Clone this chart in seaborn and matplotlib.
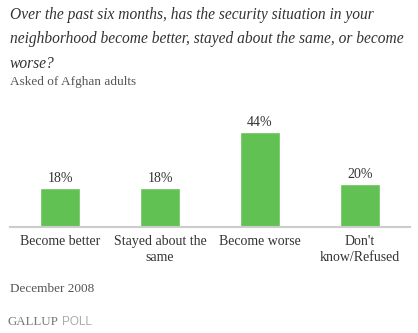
import matplotlib
matplotlib.use("Agg")
import matplotlib.pyplot as plt
import seaborn as sns
import pandas as pd

categories = ["Become better", "Stayed about the\nsame", "Become worse", "Don't\nknow/Refused"]
values = [18, 18, 44, 20]
value_labels = ["18%", "18%", "44%", "20%"]

sns.set_style("white")
plt.rcParams['font.family'] = ['Liberation Serif', 'DejaVu Serif']

W, H = 418, 333
fig = plt.figure(figsize=(W / 100, H / 100), dpi=100)
ax_left, ax_right = 10, 410
ax_top, ax_bottom = 110, 227
ax = fig.add_axes([ax_left / W, 1 - ax_bottom / H, (ax_right - ax_left) / W, (ax_bottom - ax_top) / H])

df = pd.DataFrame({"cat": categories, "val": values})
sns.barplot(data=df, x="cat", y="val", ax=ax, color="#62c153", width=0.4, saturation=1)
ax.set_xlim(-0.5, 3.5)
ax.set_ylim(0, (ax_bottom - ax_top) / (95 / 44))
for i, (v, lab) in enumerate(zip(values, value_labels)):
    ax.annotate(lab, (i, v), xytext=(0, 2), textcoords="offset points",
                ha="center", va="bottom", fontsize=10, color="#333333")

for s in ["top", "right", "left"]:
    ax.spines[s].set_visible(False)
ax.spines["bottom"].set_color("#cccccc")
ax.spines["bottom"].set_linewidth(1.5)
ax.set_yticks([])
ax.set_xlabel("")
ax.set_ylabel("")
ax.tick_params(axis="x", length=0, pad=6, labelsize=10, colors="#333333")
for t in ax.get_xticklabels():
    t.set_linespacing(1.3)

title = ("Over the past six months, has the security situation in your\n"
         "neighborhood become better, stayed about the same, or become\n"
         "worse?")
fig.text(10 / W, 1 - 7 / H, title, ha="left", va="top", fontsize=11.2,
         style="italic", color="#333333", linespacing=1.7)
fig.text(10 / W, 1 - 82 / H, "Asked of Afghan adults", ha="left", va="center",
         fontsize=9.5, color="#555555")
fig.text(10 / W, 1 - 289 / H, "December 2008", ha="left", va="center",
         fontsize=9.5, color="#555555")
g = fig.text(8 / W, 1 - 322 / H, "GALLUP", ha="left", va="center",
             fontsize=9.3, color="#777777")
fig.canvas.draw()
bb = g.get_window_extent()
fig.text((bb.x1 + 3) / W, 1 - 322 / H, "POLL", ha="left", va="center",
         fontsize=8.5, color="#aaaaaa", family=["Liberation Sans", "DejaVu Sans"])

fig.savefig("out.png", dpi=100)
